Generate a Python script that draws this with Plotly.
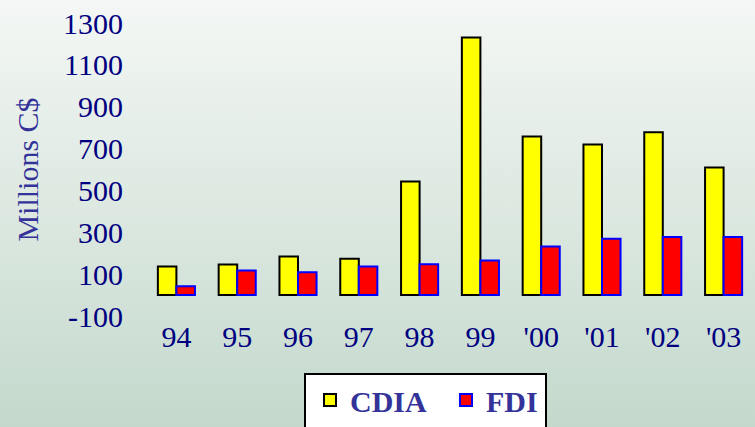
import base64
import plotly.graph_objects as go

# ---- data ----
years = ["94", "95", "96", "97", "98", "99", "'00", "'01", "'02", "'03"]
cdia = [136, 146, 184, 173, 543, 1231, 758, 720, 778, 609]
fdi = [42, 117, 109, 136, 147, 165, 232, 269, 278, 278]
y_ticks = [-100, 100, 300, 500, 700, 900, 1100, 1300]
y_tick_text = ["-100", "100", "300", "500", "700", "900", "1100", "1300"]

# ---- layout geometry ----
W, H = 755, 427
ML, MR, MT, MB = 146, 1, 23, 111
PW, PH = W - ML - MR, H - MT - MB

SERIF = "Liberation Serif, Times New Roman, serif"
NAVY = "#000080"
PURPLE = "#333399"


def px_x(p):
    return (p - ML) / PW


def px_y(p):
    return (MT + PH - p) / PH


svg = (
    '<svg xmlns="http://www.w3.org/2000/svg" width="100" height="100" preserveAspectRatio="none">'
    '<defs><linearGradient id="g" x1="0" y1="0" x2="0" y2="1">'
    '<stop offset="0" stop-color="#f4f7f5"/><stop offset="1" stop-color="#c4d9cc"/>'
    '</linearGradient></defs><rect width="100" height="100" fill="url(#g)"/></svg>'
)
bg_src = "data:image/svg+xml;base64," + base64.b64encode(svg.encode()).decode()

fig = go.Figure()
fig.add_bar(
    x=years, y=cdia, name="CDIA",
    marker=dict(color="#ffff00", line=dict(color="#000000", width=2)),
)
fig.add_bar(
    x=years, y=fdi, name="FDI",
    marker=dict(color="#ff0000", line=dict(color="#0000ff", width=2)),
)

fig.update_layout(
    width=W, height=H,
    margin=dict(l=ML, r=MR, t=MT, b=MB, autoexpand=False),
    paper_bgcolor="rgba(0,0,0,0)",
    plot_bgcolor="rgba(0,0,0,0)",
    barmode="group",
    bargap=0.39,
    bargroupgap=0,
    font=dict(family=SERIF, color=NAVY),
    images=[dict(
        source=bg_src, xref="paper", yref="paper",
        x=-ML / PW, y=1 + MT / PH, sizex=W / PW, sizey=H / PH,
        xanchor="left", yanchor="top", sizing="stretch", layer="below",
    )],
    shapes=[dict(
        type="rect", xref="paper", yref="paper",
        x0=px_x(305), x1=px_x(546), y0=px_y(374), y1=px_y(445),
        fillcolor="#ffffff", line=dict(color="#000000", width=2), layer="above",
    )],
    xaxis=dict(
        type="category",
        showgrid=False, zeroline=False, showline=False,
        ticks="",
        tickfont=dict(family=SERIF, size=30, color=NAVY),
    ),
    yaxis=dict(
        range=[-100, 1300],
        tickvals=y_ticks, ticktext=y_tick_text,
        showgrid=False, zeroline=False, showline=False,
        ticks="outside", ticklen=16, tickcolor="rgba(0,0,0,0)",
        tickfont=dict(family=SERIF, size=30, color=NAVY),
        title=dict(text="Millions C$", font=dict(family=SERIF, size=30, color=PURPLE)),
    ),
    legend=dict(
        orientation="h",
        x=px_x(310), xanchor="left",
        y=px_y(374), yanchor="top",
        entrywidth=91,
        bgcolor="rgba(0,0,0,0)", borderwidth=0,
        font=dict(family=SERIF, size=30, color=PURPLE, weight="bold"),
    ),
)

fig.write_html(
    "out.html",
    config={"displayModeBar": False},
    post_script="document.body.style.margin='0px';document.body.style.padding='0px';",
)
